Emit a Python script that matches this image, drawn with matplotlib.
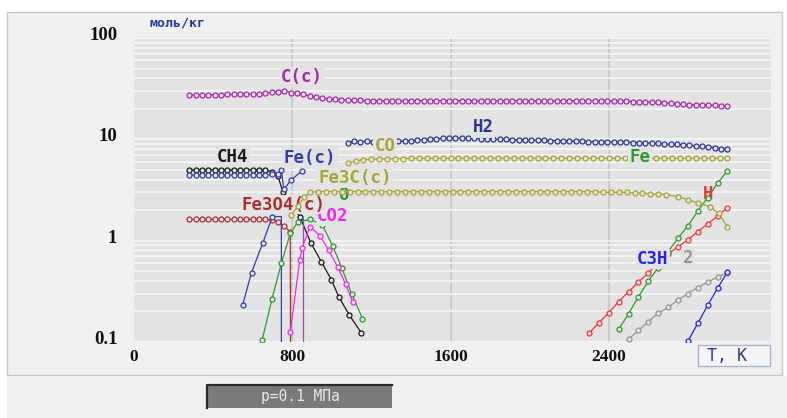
import matplotlib
matplotlib.use("Agg")
import matplotlib.pyplot as plt
from matplotlib.patches import Rectangle
from matplotlib.lines import Line2D
from matplotlib.ticker import LogLocator, NullFormatter
import matplotlib.transforms as mtransforms

# ---------------- data (T in K, amounts in mol/kg) ----------------
ZERO = 1e-4  # series vanishing (drawn as a drop below the axis)

t_cc = list(range(280, 3001, 32))
v_cc = [27.4, 27.4, 27.5, 27.5, 27.6, 27.6, 27.7, 27.7, 27.8, 27.9,
        28.0, 28.2, 28.6, 29.0, 29.6, 30.3, 28.9, 28.5, 27.8, 26.6,
        25.9, 25.3, 25.0, 24.8, 24.6, 24.4, 24.3, 24.2, 24.1, 24.1,
        24.0, 24.0, 24.1, 24.1, 24.0, 24.0, 24.0, 24.1, 24.1, 24.1,
        24.0, 24.0, 24.0, 24.1, 24.1, 24.0, 24.0, 24.0, 24.1, 24.1,
        24.0, 24.0, 24.0, 24.1, 24.1, 24.0, 24.0, 24.0, 24.0, 24.1,
        24.1, 24.0, 24.0, 23.9, 23.9, 24.0, 24.0, 23.9, 23.9, 23.9,
        23.6, 23.5, 23.4, 23.3, 23.2, 23.0, 22.6, 22.3, 22.1, 22.0,
        21.9, 21.8, 21.7, 21.6, 21.5, 21.4]

t_h2 = list(range(1080, 3001, 32))
v_h2 = [9.3, 9.6, 9.4, 9.6, 9.5, 9.5, 9.5, 9.6, 9.6, 9.6,
        9.7, 9.8, 9.9, 10.0, 10.1, 10.2, 10.3, 10.3, 10.3, 10.2,
        10.2, 10.1, 10.1, 10.0, 10.0, 10.0, 9.9, 9.9, 9.9, 9.8,
        9.8, 9.8, 9.7, 9.7, 9.7, 9.6, 9.6, 9.6, 9.5, 9.5,
        9.5, 9.5, 9.4, 9.4, 9.4, 9.3, 9.3, 9.2, 9.2, 9.1,
        9.0, 8.9, 8.9, 8.8, 8.7, 8.6, 8.5, 8.4, 8.3, 8.1, 8.0]

t_co = list(range(1080, 3001, 40))
v_co = [5.8, 6.1, 6.3, 6.35, 6.4, 6.4, 6.45, 6.45, 6.5, 6.5,
        6.5, 6.5, 6.5, 6.5, 6.5, 6.5, 6.5, 6.5, 6.5, 6.5,
        6.5, 6.5, 6.5, 6.5, 6.5, 6.5, 6.5, 6.5, 6.5, 6.5,
        6.5, 6.5, 6.5, 6.5, 6.5, 6.5, 6.5, 6.5, 6.5, 6.5,
        6.5, 6.5, 6.5, 6.5, 6.5, 6.5, 6.5, 6.5, 6.5]

t_fe3c = [795, 830, 860] + list(range(890, 2691, 40)) + [2750, 2800, 2850, 2910, 2955, 3000]
v_fe3c = [1.8, 2.2, 2.7,
          3.0, 3.05, 3.05, 3.05, 3.05, 3.05, 3.05, 3.05, 3.05, 3.05,
          3.05, 3.05, 3.05, 3.05, 3.05, 3.05, 3.05, 3.05, 3.05, 3.05,
          3.05, 3.05, 3.05, 3.05, 3.05, 3.05, 3.05, 3.05, 3.05, 3.05,
          3.05, 3.05, 3.05, 3.05, 3.05, 3.05, 3.05, 3.0, 3.0, 3.0,
          3.0, 2.95, 2.95, 2.9, 2.9, 2.85,
          2.72, 2.54, 2.36, 2.17, 1.86, 1.37]

t_ch4 = list(range(280, 729, 32)) + [752, 838, 895, 947, 998, 1035, 1088, 1148]
v_ch4 = [5.0, 5.0, 5.0, 5.0, 5.0, 5.0, 5.0, 5.0, 5.0, 5.0,
         5.0, 5.0, 5.0, 4.8, 4.3,
         3.05, 1.73, 0.94, 0.62, 0.41, 0.28, 0.185, 0.124]

t_fec = list(range(280, 729, 32)) + [745, 757, 796, 847]
v_fec = [4.45, 4.45, 4.45, 4.45, 4.45, 4.45, 4.45, 4.45, 4.45, 4.45,
         4.45, 4.45, 4.45, 4.5, 4.6,
         5.0, 3.2, 4.0, 4.85]

t_fe3o4 = list(range(280, 761, 32)) + [790, 795]
v_fe3o4 = [1.62, 1.62, 1.62, 1.62, 1.62, 1.62, 1.62, 1.62, 1.62, 1.62,
           1.62, 1.62, 1.62, 1.6, 1.52, 1.38, 1.22, ZERO]

t_blue = [549, 594, 650, 700, 745, 745]
v_blue = [0.232, 0.483, 0.94, 1.73, 1.73, ZERO]

t_violet = [852, 852]
v_violet = [1.65, ZERO]

t_h2o = [648, 697, 745, 790, 828, 890, 952, 1005, 1050, 1100, 1155]
v_h2o = [0.105, 0.264, 0.60, 1.18, 1.53, 1.62, 1.43, 0.88, 0.54, 0.30, 0.17]

t_co2 = [790, 838, 850, 890, 940, 985, 1030, 1070, 1105]
v_co2 = [0.125, 0.65, 0.85, 1.37, 1.12, 0.80, 0.55, 0.37, 0.25]

t_fe = [2450, 2500, 2550, 2600, 2650, 2700, 2750, 2800, 2850, 2900, 2950, 3000]
v_fe = [0.133, 0.19, 0.28, 0.40, 0.54, 0.78, 1.06, 1.40, 1.96, 2.66, 3.69, 4.91]

t_h = [2300, 2350, 2400, 2450, 2500, 2550, 2600, 2650, 2700, 2750, 2800, 2850, 2900, 2950, 3000]
v_h = [0.122, 0.155, 0.195, 0.25, 0.314, 0.39, 0.48, 0.6, 0.74, 0.87, 1.02, 1.23, 1.46, 1.75, 2.12]

t_c2 = [2500, 2550, 2600, 2650, 2700, 2750, 2800, 2850, 2900, 2950, 3000]
v_c2 = [0.107, 0.13, 0.159, 0.192, 0.22, 0.26, 0.30, 0.345, 0.39, 0.44, 0.48]

t_c3h = [2800, 2850, 2900, 2950, 3000]
v_c3h = [0.102, 0.153, 0.23, 0.34, 0.49]

x_ticks = [0, 800, 1600, 2400]
x_ticklabels = ["0", "800", "1600", "2400"]
y_ticks = [0.1, 1, 10, 100]
y_ticklabels = ["0.1", "1", "10", "100"]

# ---------------- style ----------------
W, H = 787, 418
BG = "#e3e3e3"
PANEL = "#f0f0f0"
C_CC = "#a52aa5"
C_H2 = "#2b3590"
C_OL = "#a6a634"
C_CH4 = "#1a1a1a"
C_FEC = "#3340a8"
C_FE3O4 = "#a83232"
C_GRN = "#2f9a2f"
C_MAG = "#f028f0"
C_RED = "#f03535"
C_GRY = "#969696"
C_C3H = "#2525e0"
C_VIO = "#9a48b0"
LBL_FONT = "DejaVu Sans Mono"

fig = plt.figure(figsize=(W / 100, H / 100), dpi=100)
fig.patch.set_facecolor("white")


def fx(px):
    return px / W


def fy(py):
    return 1 - py / H


fig.patches.append(Rectangle((fx(7), fy(375)), fx(782) - fx(7), fy(12) - fy(375),
                             transform=fig.transFigure, facecolor=PANEL,
                             edgecolor="#c8c8c8", lw=1, zorder=-2))
fig.patches.append(Rectangle((fx(7), 0), 1 - fx(7), fy(376),
                             transform=fig.transFigure, facecolor=PANEL,
                             edgecolor="none", zorder=-2))

ax = fig.add_axes([fx(134), fy(342), fx(771) - fx(134), fy(38) - fy(342)])
ax.set_facecolor(BG)
ax.set_yscale("log")
ax.set_xlim(0, 3220)
ax.set_ylim(0.1, 100)
for s in ax.spines.values():
    s.set_visible(False)

ax.yaxis.set_minor_locator(LogLocator(base=10, subs=[2, 3, 4, 5, 6, 7, 8, 9]))
ax.yaxis.set_minor_formatter(NullFormatter())
ax.set_yticks(y_ticks)
ax.set_yticklabels(y_ticklabels)
ax.set_xticks(x_ticks)
ax.set_xticklabels(x_ticklabels)
ax.grid(which="both", axis="y", color="#f6f6f6", lw=1.2, zorder=0)
for xv in x_ticks[1:]:
    ax.axvline(xv, color="#c4c4c4", lw=1.1, zorder=0.5)
ax.set_axisbelow(True)
ax.tick_params(which="both", length=0)
ax.tick_params(axis="y", pad=12)
ax.tick_params(axis="x", pad=5)
off = mtransforms.ScaledTranslation(0, 0.045, fig.dpi_scale_trans)
for lab in ax.get_yticklabels():
    lab.set_transform(lab.get_transform() + off)
    lab.set_fontsize(13.5)
for lab in ax.get_xticklabels():
    lab.set_fontsize(12.5)
for lab in ax.get_xticklabels() + ax.get_yticklabels():
    lab.set_fontfamily("Liberation Serif")
    lab.set_fontweight("bold")
    lab.set_color("#111111")


def series(t, v, color, skip_last=0, z=3, markers=True):
    n = len(t)
    idx = list(range(n - skip_last)) if markers else []
    ax.plot(t, v, color=color, lw=0.9, marker="o", ms=3.6, mfc=BG, mec=color,
            mew=0.9, markevery=idx, zorder=z, solid_joinstyle="round")


series(t_cc, v_cc, C_CC)
series(t_h2, v_h2, C_H2)
series(t_co, v_co, C_OL)
series(t_ch4, v_ch4, C_CH4)
series(t_fec, v_fec, C_FEC)
series(t_fe3o4, v_fe3o4, C_FE3O4, skip_last=1)
series(t_blue, v_blue, C_FEC, skip_last=2)
series(t_violet, v_violet, C_VIO, markers=False)
series(t_h2o, v_h2o, C_GRN)
series(t_co2, v_co2, C_MAG)
series(t_fe, v_fe, C_GRN, z=3.4)
series(t_h, v_h, C_RED)
series(t_c2, v_c2, C_GRY)
series(t_c3h, v_c3h, C_C3H)
series(t_fe3c, v_fe3c, C_OL, z=5)


def label(x, y, s, color, z=4.2, box=True, size=12.5, pad=1.0):
    kw = dict(color=color, fontsize=size, fontfamily=LBL_FONT, fontweight="bold",
              ha="center", va="center", zorder=z)
    if box:
        kw["bbox"] = dict(facecolor=BG, edgecolor="none", pad=pad)
    ax.text(x, y, s, **kw)


label(1060, 2.85, "O", C_GRN, z=2.5, box=False)
label(1005, 1.77, "CO2", C_MAG, z=4.0)
label(849, 41.2, "C(c)", C_CC)
label(500, 6.7, "CH4", C_CH4)
label(890, 6.55, "Fe(c)", C_FEC)
label(1269, 8.6, "CO", C_OL)
label(1764, 13.2, "H2", C_H2)
label(1117, 4.15, "Fe3C(c)", C_OL)
label(758, 2.27, "Fe3O4(c)", C_FE3O4, z=4.5, pad=0.5)
label(2557, 6.7, "Fe", C_GRN)
label(2901, 2.89, "H", C_RED, z=3.2, box=False)
label(2800, 0.675, "2", C_GRY, z=4.0)
label(2623, 0.66, "C3H", C_C3H, z=4.6)

# unit label
fig.text(fx(150), fy(23), "моль/кг", color="#2a3a9a", fontsize=9.5,
         fontfamily=LBL_FONT, fontweight="bold", ha="left", va="center")

# axis name box
fig.patches.append(Rectangle((fx(698), fy(366)), fx(770) - fx(698), fy(345) - fy(366),
                             transform=fig.transFigure, facecolor="#f5f5f5",
                             edgecolor="#aab4c8", lw=1, zorder=5))
fig.text(fx(707), fy(356), "T, K", color="#2a3a9a", fontsize=12,
         fontfamily=LBL_FONT, ha="left", va="center", zorder=6)

# pressure button
fig.patches.append(Rectangle((fx(207), fy(408)), fx(392) - fx(207), fy(385) - fy(408),
                             transform=fig.transFigure, facecolor="#7a7a7a",
                             edgecolor="none", zorder=5))
fig.lines.append(Line2D([fx(207), fx(207), fx(392)], [fy(408), fy(385), fy(385)],
                        transform=fig.transFigure, color="#2a2a2a", lw=1.6, zorder=6))
fig.text(fx(300), fy(397), "p=0.1 МПа", color="#e8e8e8", fontsize=10.5,
         fontfamily=LBL_FONT, ha="center", va="center", zorder=7)

fig.savefig("out.png", dpi=100, facecolor=fig.get_facecolor())
